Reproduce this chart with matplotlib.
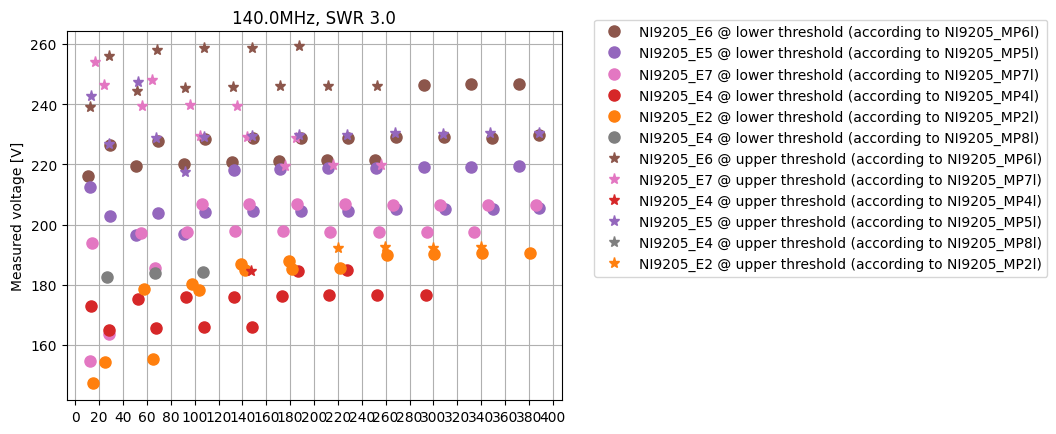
import matplotlib
matplotlib.use("Agg")
import matplotlib.pyplot as plt

# ---- data ----
e6_low_x = [10.6, 29.3, 50.8, 69.5, 91.1, 109.0, 131.0, 149.2, 170.7, 189.1, 211.2, 228.7, 251.3, 268.9, 292.4, 309.1, 331.8, 349.4, 372.0, 388.8]
e6_low_y = [216.1, 226.3, 219.5, 227.8, 220.1, 228.3, 220.9, 228.7, 221.0, 228.7, 221.6, 228.7, 221.4, 229.2, 246.4, 229.2, 246.7, 228.9, 246.7, 229.8]

e5_low_x = [12.0, 29.3, 50.8, 69.5, 91.1, 109.0, 132.8, 149.2, 171.5, 189.1, 212.0, 228.7, 252.3, 268.9, 292.4, 309.5, 331.8, 349.7, 372.0, 388.8]
e5_low_y = [212.4, 202.8, 196.5, 203.8, 196.8, 204.2, 218.1, 204.4, 218.5, 204.4, 218.8, 204.4, 218.8, 205.2, 219.1, 205.0, 219.1, 205.0, 219.6, 205.5]

e7_low_x = [12.3, 14.0, 28.2, 54.8, 66.8, 93.9, 106.4, 134.1, 145.8, 174.3, 186.0, 213.6, 226.0, 254.2, 266.2, 294.5, 305.6, 334.1, 345.8, 386.0]
e7_low_y = [154.6, 193.9, 163.7, 197.2, 185.7, 197.4, 206.9, 197.9, 206.8, 197.8, 206.8, 197.4, 206.8, 197.4, 206.6, 197.4, 206.6, 197.4, 206.6, 206.6]

e4_low_x = [13.1, 28.2, 52.8, 67.8, 93.1, 108.2, 133.3, 148.3, 173.4, 186.9, 212.8, 227.4, 253.0, 293.5]
e4_low_y = [172.9, 165.0, 175.2, 165.5, 175.8, 166.0, 175.8, 165.9, 176.2, 184.5, 176.5, 184.8, 176.5, 176.5]

e2_low_x = [15.2, 25.2, 57.6, 65.1, 97.8, 103.4, 138.8, 142.2, 179.0, 181.9, 221.8, 261.2, 300.8, 341.0, 381.0]
e2_low_y = [147.4, 154.2, 178.6, 155.2, 180.4, 178.2, 186.9, 185.0, 187.9, 185.2, 185.5, 190.0, 190.2, 190.5, 190.5]

e4mp8_low_x = [26.8, 67.0, 107.3]
e4mp8_low_y = [182.5, 183.9, 184.3]

e6_up_x = [12.3, 28.5, 51.7, 68.1, 92.2, 108.2, 132.4, 148.1, 171.8, 187.7, 212.0, 252.5]
e6_up_y = [239.1, 256.1, 244.2, 258.1, 245.5, 258.8, 245.8, 258.7, 246.1, 259.2, 246.1, 246.1]

e7_up_x = [16.8, 24.3, 56.2, 64.5, 96.1, 104.7, 135.5, 143.6, 175.7, 184.7, 216.1, 255.9]
e7_up_y = [254.1, 246.5, 239.5, 248.1, 239.8, 229.5, 239.5, 229.0, 219.6, 228.7, 219.8, 219.8]

e4_up_x = [147.3]
e4_up_y = [184.7]

e5_up_x = [13.1, 28.5, 52.6, 67.9, 92.2, 108.2, 148.1, 187.5, 227.9, 268.1, 308.3, 347.7, 388.2]
e5_up_y = [242.8, 226.7, 247.3, 228.7, 217.6, 229.1, 229.5, 229.8, 229.9, 230.3, 230.1, 230.5, 230.3]

e4mp8_up_x = []
e4mp8_up_y = []

e2_up_x = [220.4, 259.5, 300.0, 339.9]
e2_up_y = [192.2, 192.7, 192.1, 192.7]

xticks = list(range(0, 401, 20))

series = [
    (e6_low_x, e6_low_y, "o", "#8c564b", "NI9205_E6 @ lower threshold (according to NI9205_MP6l)"),
    (e5_low_x, e5_low_y, "o", "#9467bd", "NI9205_E5 @ lower threshold (according to NI9205_MP5l)"),
    (e7_low_x, e7_low_y, "o", "#e377c2", "NI9205_E7 @ lower threshold (according to NI9205_MP7l)"),
    (e4_low_x, e4_low_y, "o", "#d62728", "NI9205_E4 @ lower threshold (according to NI9205_MP4l)"),
    (e2_low_x, e2_low_y, "o", "#ff7f0e", "NI9205_E2 @ lower threshold (according to NI9205_MP2l)"),
    (e4mp8_low_x, e4mp8_low_y, "o", "#7f7f7f", "NI9205_E4 @ lower threshold (according to NI9205_MP8l)"),
    (e6_up_x, e6_up_y, "*", "#8c564b", "NI9205_E6 @ upper threshold (according to NI9205_MP6l)"),
    (e7_up_x, e7_up_y, "*", "#e377c2", "NI9205_E7 @ upper threshold (according to NI9205_MP7l)"),
    (e4_up_x, e4_up_y, "*", "#d62728", "NI9205_E4 @ upper threshold (according to NI9205_MP4l)"),
    (e5_up_x, e5_up_y, "*", "#9467bd", "NI9205_E5 @ upper threshold (according to NI9205_MP5l)"),
    (e4mp8_up_x, e4mp8_up_y, "*", "#7f7f7f", "NI9205_E4 @ upper threshold (according to NI9205_MP8l)"),
    (e2_up_x, e2_up_y, "*", "#ff7f0e", "NI9205_E2 @ upper threshold (according to NI9205_MP2l)"),
]

fig = plt.figure(figsize=(10.56, 4.35), dpi=100)
ax = fig.add_axes([66.5 / 1056, 1 - 401 / 435, (562.3 - 66.5) / 1056, (401 - 32.3) / 435])

for xs, ys, m, c, lab in series:
    ax.plot(xs, ys, linestyle="none", marker=m, color=c, markersize=8, label=lab)

ax.set_xlim(-7.4, 408)
ax.set_ylim(141.7, 264.2)
ax.set_xticks(xticks)
ax.grid(True)
ax.set_axisbelow(True)
ax.set_title("140.0MHz, SWR 3.0")
ax.set_ylabel("Measured voltage [V]")

handles, labels = ax.get_legend_handles_labels()
fig.legend(handles, labels, loc="upper left",
           bbox_to_anchor=(594.3 / 1056, 1 - 20.7 / 435), borderaxespad=0)

fig.savefig("out.png", dpi=100)
